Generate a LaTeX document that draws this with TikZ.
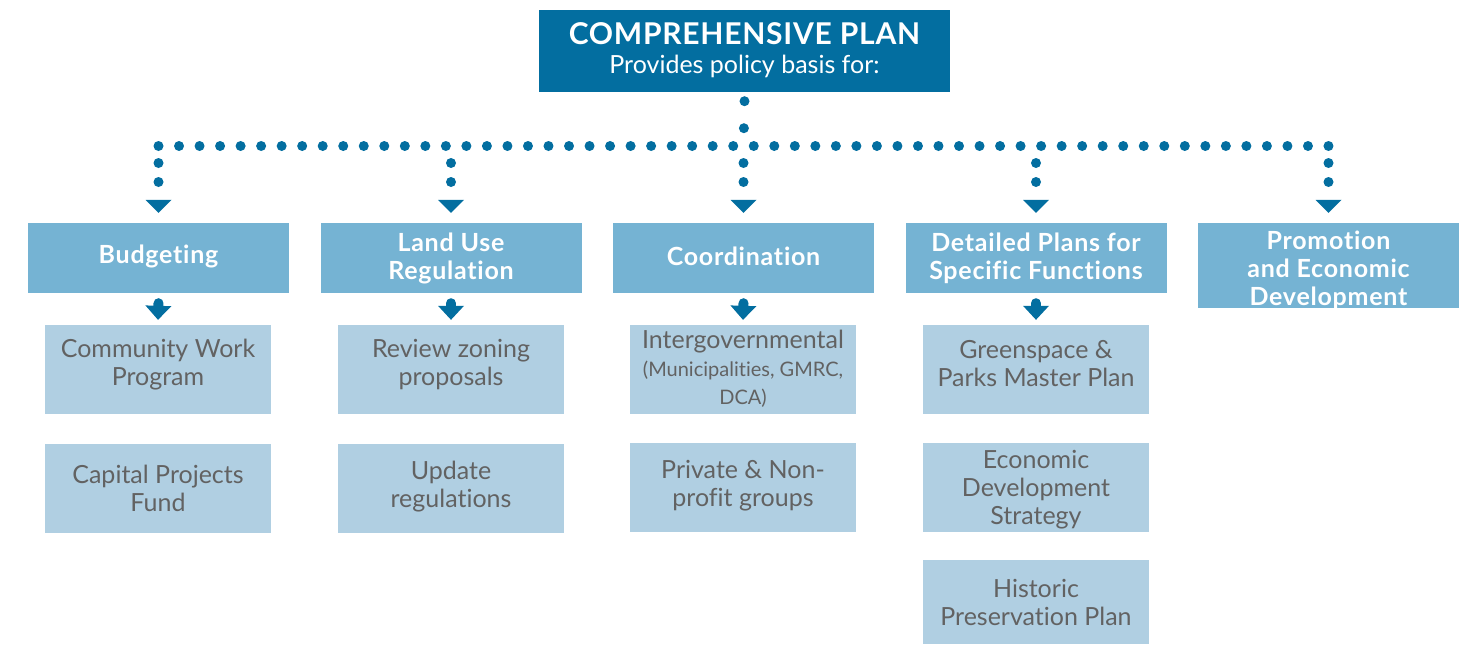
\documentclass[tikz,border=0pt]{standalone}
\usepackage{fontspec}
\setmainfont{Lato}[Ligatures=NoCommon]
\newfontfamily\boldsp{Lato}[LetterSpace=3,Ligatures=NoCommon]
\usetikzlibrary{arrows.meta}
\definecolor{dblue}{RGB}{3,110,160}
\definecolor{mblue}{RGB}{117,179,211}
\definecolor{lblue}{RGB}{176,207,226}
\definecolor{gtext}{RGB}{98,98,98}
\tikzset{
  topbox/.style={fill=dblue, inner sep=0pt, minimum width=411pt, minimum height=82pt},
  toptext/.style={text=white, inner sep=0pt, align=center, font=\fontsize{25}{29}\selectfont},
  lonebox/.style={fill=mblue, inner sep=0pt, minimum width=261pt},
  lonetext/.style={text=white, inner sep=0pt, align=center,
    font=\fontsize{25}{28}\selectfont\boldsp\bfseries},
  ltwobox/.style={fill=lblue, inner sep=0pt, minimum width=226pt},
  ltwotext/.style={text=gtext, inner sep=0pt, align=center,
    font=\fontsize{25}{28}\selectfont},
  dotline/.style={draw=dblue, line width=10pt, line cap=round},
  tipA/.style={-{Triangle[width=26pt,length=13pt,line width=0pt]}},
  stemarrow/.style={draw=dblue, line width=10pt, line cap=round, -{Triangle[width=26pt,length=14pt,line width=0pt]}}
}
\begin{document}
\begin{tikzpicture}[x=1pt,y=-1pt]
\useasboundingbox (0,0) rectangle (1473,645);
% top
\node[topbox] (top) at (744.5,51) {};
\node[toptext] (topt) at ([yshift=1pt]top.center) {{\fontsize{30}{30}\selectfont\boldsp\bfseries\addfontfeature{LetterSpace=2.5}COMPREHENSIVE PLAN}\\Provides policy basis for:};
% level 1
\node[lonebox, minimum height=70pt] (b1) at (158.5,258) {};
\node[lonebox, minimum height=70pt] (b2) at (451,258) {};
\node[lonebox, minimum height=70pt] (b3) at (743.5,258) {};
\node[lonebox, minimum height=70pt] (b4) at (1036,258) {};
\node[lonebox, minimum height=85pt] (b5) at (1328.5,265.5) {};
\node[lonetext] (t1) at ([yshift=2pt]b1.center) {Budgeting};
\node[lonetext] (t2) at (b2.center) {Land Use\\Regulation};
\node[lonetext] (t3) at ([yshift=2pt]b3.center) {Coordination};
\node[lonetext] (t4) at (b4.center) {Detailed Plans for\\Specific Functions};
\node[lonetext] (t5) at ([yshift=-5pt]b5.center) {Promotion\\and Economic\\Development};
% level 2
\node[ltwobox, minimum height=89pt] (s11) at (158,369.5) {};
\node[ltwobox, minimum height=89pt] (s12) at (158,488.5) {};
\node[ltwobox, minimum height=89pt] (s21) at (451,369.5) {};
\node[ltwobox, minimum height=89pt] (s22) at (451,488) {};
\node[ltwobox, minimum height=89pt] (s31) at (743,369.5) {};
\node[ltwobox, minimum height=89pt] (s32) at (743,487.5) {};
\node[ltwobox, minimum height=89pt] (s41) at (1036,369.5) {};
\node[ltwobox, minimum height=89pt] (s42) at (1036,487.5) {};
\node[ltwobox, minimum height=84pt] (s43) at (1036,602) {};
\node[ltwotext] (u11) at ([yshift=5pt]s11.center) {Community Work\\Program};
\node[ltwotext] (u12) at ([yshift=0pt]s12.center) {Capital Projects\\Fund};
\node[ltwotext] (u21) at ([yshift=5pt]s21.center) {Review zoning\\proposals};
\node[ltwotext] (u22) at ([yshift=1pt]s22.center) {Update\\regulations};
\node[ltwotext] (u31) at ([yshift=1pt]s31.center) {Intergovernmental\\\fontsize{20}{26}\selectfont(Municipalities, GMRC,\\\fontsize{20}{24}\selectfont DCA)};
\node[ltwotext] (u32) at ([yshift=2pt]s32.center) {Private \& Non-\\profit groups};
\node[ltwotext] (u41) at ([yshift=6pt]s41.center) {Greenspace \&\\Parks Master Plan};
\node[ltwotext] (u42) at ([yshift=-2pt]s42.center) {Economic\\Development\\Strategy};
\node[ltwotext] (u43) at ([yshift=0pt]s43.center) {Historic\\Preservation Plan};
% dotted connectors
\coordinate (hub) at (743.5,146);
\coordinate (h1) at (158.5,146);
\coordinate (h2) at (451,146);
\coordinate (h3) at (743.5,146);
\coordinate (h4) at (1036,146);
\coordinate (h5) at (1328.5,146);
\draw[dotline, dash pattern=on 0pt off 27pt] ([yshift=-9pt]top.south) -- (hub);
\draw[dotline, dash pattern=on 0pt off 20.526pt] (h1) -- (h5);
\foreach \i in {1,...,5}{
  \draw[dotline, tipA, dash pattern=on 0pt off 19pt] ([yshift=-17pt]h\i) -- ([yshift=10pt]b\i.north);
}
% small arrows
\foreach \i in {1,...,4}{
  \draw[stemarrow] ([yshift=-10pt]b\i.south) -- ([yshift=5pt]s\i1.north);
}
\end{tikzpicture}
\end{document}
